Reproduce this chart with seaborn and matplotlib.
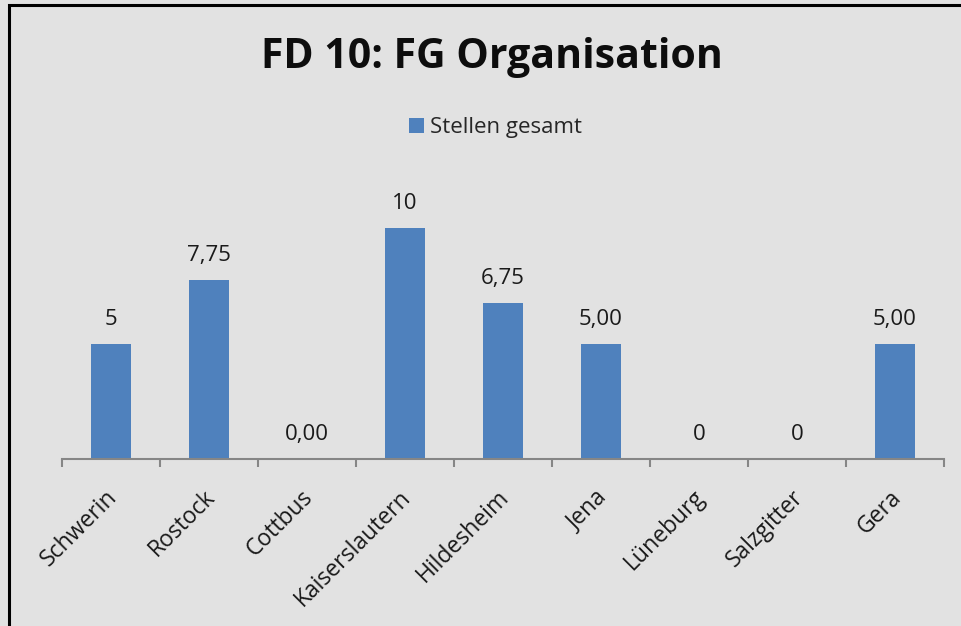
import matplotlib
matplotlib.use("Agg")
import matplotlib.pyplot as plt
import matplotlib.patches as mpatches
import matplotlib.transforms as mtransforms
import seaborn as sns
import numpy as np

categories = ["Schwerin", "Rostock", "Cottbus", "Kaiserslautern", "Hildesheim",
              "Jena", "Lüneburg", "Salzgitter", "Gera"]
values = [5, 7.75, 0, 10, 6.75, 5, 0, 0, 5]
value_labels = ["5", "7,75", "0,00", "10", "6,75", "5,00", "0", "0", "5,00"]
series_name = "Stellen gesamt"
title = "FD 10: FG Organisation"

sns.set_theme(style="white")
plt.rcParams['font.family'] = ['Open Sans', 'DejaVu Sans']

bg = "#e2e2e2"
bar_color = "#4f81bd"
axis_color = "#868686"

fig = plt.figure(figsize=(9.61, 6.26), dpi=100)
fig.patch.set_facecolor(bg)
ax = fig.add_axes([62/961, 1-459/626, (944-62)/961, (459-182)/626])
ax.set_facecolor(bg)

sns.barplot(x=categories, y=values, color=bar_color, width=0.41,
            label=series_name, ax=ax, saturation=1, linewidth=0, legend=False)
if ax.get_legend() is not None:
    ax.get_legend().remove()

ax.set_ylim(0, 12)
ax.set_xlim(-0.5, len(categories) - 0.5)
for s in ["top", "right", "left"]:
    ax.spines[s].set_visible(False)
ax.spines["bottom"].set_color(axis_color)
ax.spines["bottom"].set_linewidth(1.5)
ax.set_yticks([])
ax.set_xticks(range(len(categories)))
ax.set_xticklabels(categories, rotation=45, ha="right", rotation_mode="anchor",
                   fontsize=16.5, color="#1a1a1a")
ax.set_xticks(np.arange(-0.5, len(categories), 1.0), minor=True)
ax.tick_params(axis="x", which="major", length=0, pad=19)
ax.tick_params(axis="x", which="minor", length=6, width=1.5, color=axis_color,
               direction="out", bottom=True)
ax.set_xlabel("")
ax.set_ylabel("")
offset = mtransforms.ScaledTranslation(-6/100, 0, fig.dpi_scale_trans)
for lbl in ax.get_xticklabels():
    lbl.set_transform(lbl.get_transform() + offset)

for i, (v, lab) in enumerate(zip(values, value_labels)):
    ax.annotate(lab, xy=(i, v), xytext=(0, 10), textcoords="offset points",
                ha="center", va="bottom", fontsize=16, color="#1a1a1a")

fig.text(0.512, 1-57/626, title, ha="center", va="center", fontsize=29.5,
         fontweight="bold", color="#0d0d0d")

handles = [mpatches.Patch(facecolor=bar_color, edgecolor="none")]
leg = fig.legend(handles, [series_name], loc="center", bbox_to_anchor=(0.516, 1-128/626),
                 frameon=False, fontsize=16, handlelength=0.65, handleheight=0.65,
                 handletextpad=0.3)

rect = mpatches.Rectangle((8.5/961, -0.1), 1.2, 1.1 - 5.5/626, transform=fig.transFigure,
                          fill=False, edgecolor="black", linewidth=2.2, clip_on=False)
fig.patches.append(rect)

fig.savefig("out.png", dpi=100, facecolor=bg)
